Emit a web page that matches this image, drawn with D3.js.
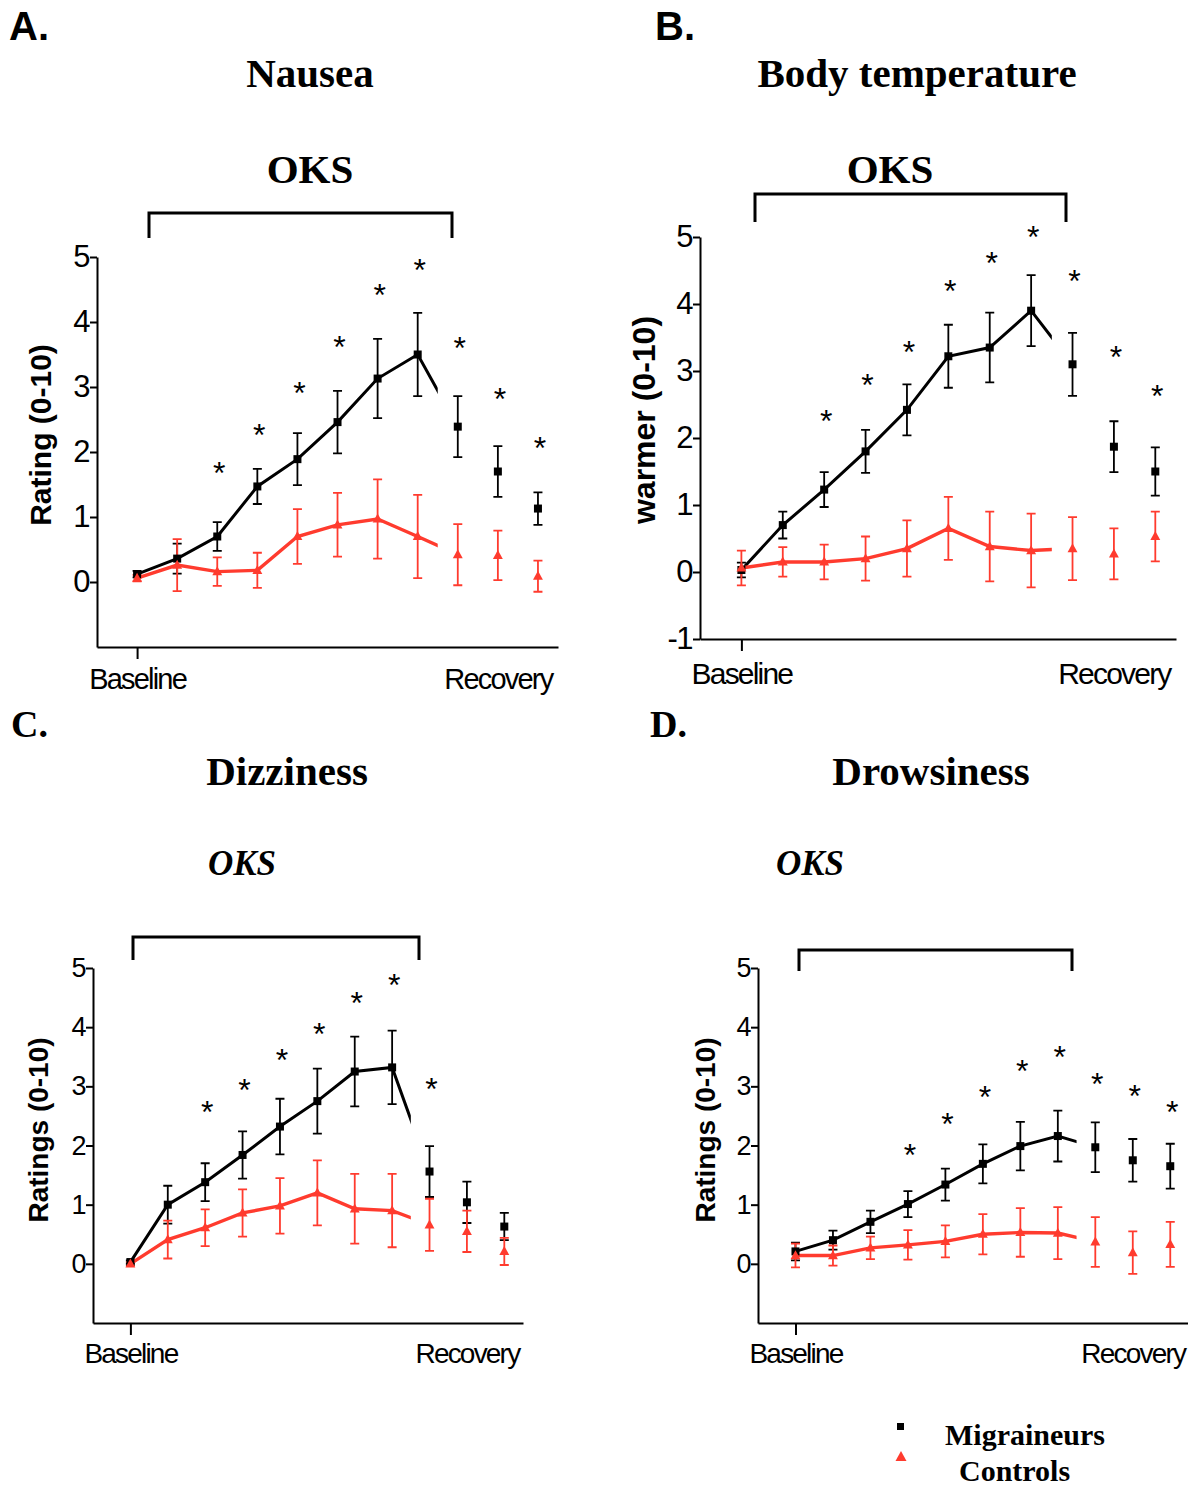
<!DOCTYPE html>
<html><head><meta charset="utf-8">
<script src="https://cdn.jsdelivr.net/npm/d3@7"></script>
<style>body{margin:0;background:#fff}</style>
</head><body>
<svg id="chart" width="1188" height="1486"></svg>
<script>
// ---------- data ----------
const timepoints = [0,1,2,3,4,5,6,7,8,9,10];
const xTickValues = [0, 9];
const xTickLabels = ["Baseline", "Recovery"];
const groupNames = ["Migraineurs", "Controls"];
const yTicksStd = [0,1,2,3,4,5];
const yTicksTemp = [-1,0,1,2,3,4,5];

const nauseaMig    = [0.12,0.36,0.70,1.47,1.89,2.46,3.13,3.50,2.39,1.70,1.13];
const nauseaMigErr = [0.05,0.23,0.22,0.27,0.40,0.48,0.61,0.64,0.47,0.39,0.25];
const nauseaCtl    = [0.06,0.26,0.16,0.18,0.70,0.88,0.97,0.70,0.42,0.41,0.09];
const nauseaCtlErr = [0.05,0.40,0.22,0.27,0.42,0.49,0.61,0.64,0.47,0.38,0.24];
const nauseaStars  = [null,null,1.78,2.37,3.02,3.72,4.52,4.91,3.71,2.92,2.17];

const tempMig    = [0.03,0.70,1.23,1.80,2.42,3.22,3.35,3.90,3.10,1.87,1.50];
const tempMigErr = [0.11,0.20,0.26,0.32,0.38,0.47,0.52,0.53,0.47,0.38,0.36];
const tempCtl    = [0.06,0.15,0.15,0.20,0.35,0.65,0.38,0.32,0.35,0.27,0.53];
const tempCtlErr = [0.26,0.22,0.26,0.33,0.42,0.47,0.52,0.55,0.47,0.38,0.37];
const tempStars  = [null,null,2.36,2.90,3.39,4.30,4.72,5.10,4.45,3.31,2.73];

const dizzMig    = [0.03,1.00,1.38,1.84,2.32,2.75,3.25,3.32,1.56,1.04,0.63];
const dizzMigErr = [0.03,0.32,0.32,0.40,0.47,0.55,0.59,0.62,0.43,0.35,0.23];
const dizzCtl    = [0.00,0.41,0.61,0.86,0.98,1.20,0.93,0.90,0.66,0.55,0.21];
const dizzCtlErr = [0.03,0.32,0.31,0.40,0.47,0.55,0.59,0.62,0.44,0.35,0.23];
const dizzStars  = [null,null,2.69,3.06,3.56,4.00,4.53,4.83,3.07,null,null];

const drowMig    = [0.21,0.40,0.71,1.01,1.34,1.69,1.99,2.16,1.97,1.75,1.65];
const drowMigErr = [0.15,0.16,0.19,0.22,0.27,0.33,0.41,0.43,0.42,0.36,0.38];
const drowCtl    = [0.14,0.14,0.27,0.32,0.38,0.50,0.53,0.52,0.37,0.19,0.33];
const drowCtlErr = [0.20,0.17,0.19,0.25,0.27,0.34,0.41,0.44,0.42,0.36,0.38];
const drowStars  = [null,null,null,1.96,2.48,2.94,3.38,3.61,3.16,2.96,2.69];

// ---------- styling / layout ----------
const SANS = "'Liberation Sans', Arial, Helvetica, sans-serif";
const SERIF = "'Liberation Serif', 'Times New Roman', Times, serif";
const BLACK = "#000", RED = "#ff3b2e";

const panels = [
  {letter:"A.", letterFont:SANS, letterSize:40, letterX:9, letterY:40,
   title:"Nausea", titleX:310, titleY:87, oksX:310, oksY:183, oksSize:41, oksItalic:false,
   bracket:{x1:149, x2:452, y:213, y2:238},
   left:97, right:558, top:257, bottom:647, tickFont:31, yTicks:yTicksStd,
   ylabel:"Rating (0-10)", ylabelX:51, ylabelY:435, ylabelSize:30,
   xlabelOff:42, xlabelSize:29,
   mig:nauseaMig, migErr:nauseaMigErr, ctl:nauseaCtl, ctlErr:nauseaCtlErr, stars:nauseaStars},
  {letter:"B.", letterFont:SANS, letterSize:40, letterX:655, letterY:40,
   title:"Body temperature", titleX:917, titleY:87, oksX:890, oksY:183, oksSize:41, oksItalic:false,
   bracket:{x1:755, x2:1066, y:194, y2:222},
   left:700, right:1176, top:237, bottom:639, tickFont:31, yTicks:yTicksTemp,
   ylabel:"warmer  (0-10)", ylabelX:655, ylabelY:420, ylabelSize:32,
   xlabelOff:45, xlabelSize:30,
   mig:tempMig, migErr:tempMigErr, ctl:tempCtl, ctlErr:tempCtlErr, stars:tempStars},
  {letter:"C.", letterFont:SERIF, letterSize:38, letterX:11, letterY:737,
   title:"Dizziness", titleX:287, titleY:785, oksX:242, oksY:875, oksSize:35, oksItalic:true,
   bracket:{x1:133, x2:419, y:937, y2:960},
   left:93, right:523, top:968, bottom:1323, tickFont:27, yTicks:yTicksStd,
   ylabel:"Ratings (0-10)", ylabelX:48, ylabelY:1130, ylabelSize:28,
   xlabelOff:40, xlabelSize:28,
   mig:dizzMig, migErr:dizzMigErr, ctl:dizzCtl, ctlErr:dizzCtlErr, stars:dizzStars},
  {letter:"D.", letterFont:SERIF, letterSize:38, letterX:650, letterY:737,
   title:"Drowsiness", titleX:931, titleY:785, oksX:810, oksY:875, oksSize:35, oksItalic:true,
   bracket:{x1:799, x2:1072, y:950, y2:971},
   left:758, right:1189, top:968, bottom:1323, tickFont:27, yTicks:yTicksStd,
   ylabel:"Ratings (0-10)", ylabelX:715, ylabelY:1130, ylabelSize:28,
   xlabelOff:40, xlabelSize:28,
   mig:drowMig, migErr:drowMigErr, ctl:drowCtl, ctlErr:drowCtlErr, stars:drowStars}
];

const svg = d3.select("#chart");
const defs = svg.append("defs");

const triPath = (s) => `M0,${-s*0.6}L${s*0.55},${s*0.4}L${-s*0.55},${s*0.4}Z`;

panels.forEach((p, pi) => {
  const g = svg.append("g");
  const x = d3.scaleLinear().domain([-1, 10.5]).range([p.left, p.right]);
  const y = d3.scaleLinear().domain([-1, 5]).range([p.bottom, p.top]);

  // panel letter, title, OKS
  g.append("text").attr("x", p.letterX).attr("y", p.letterY)
    .attr("font-family", p.letterFont).attr("font-weight", "bold")
    .attr("font-size", p.letterSize).text(p.letter);
  g.append("text").attr("x", p.titleX).attr("y", p.titleY).attr("text-anchor", "middle")
    .attr("font-family", SERIF).attr("font-weight", "bold").attr("font-size", 41).text(p.title);
  g.append("text").attr("x", p.oksX).attr("y", p.oksY).attr("text-anchor", "middle")
    .attr("font-family", SERIF).attr("font-weight", "bold")
    .attr("font-style", p.oksItalic ? "italic" : "normal")
    .attr("font-size", p.oksSize).text("OKS");
  // bracket
  const b = p.bracket;
  g.append("path")
    .attr("d", `M${b.x1},${b.y2}V${b.y}H${b.x2}V${b.y2}`)
    .attr("fill", "none").attr("stroke", BLACK).attr("stroke-width", 3);

  // y axis
  const yAxis = g.append("g").attr("transform", `translate(${p.left},0)`)
    .call(d3.axisLeft(y).tickValues(p.yTicks).tickFormat((d) => String(d))
      .tickSize(7).tickPadding(1).tickSizeOuter(0));
  yAxis.select(".domain").attr("stroke-width", 2);
  yAxis.selectAll(".tick line").attr("stroke-width", 2);
  yAxis.selectAll(".tick text").attr("font-family", SANS).attr("font-size", p.tickFont)
    .attr("fill", BLACK).attr("letter-spacing", -1.5);

  // x axis
  const xAxis = g.append("g").attr("transform", `translate(0,${p.bottom})`)
    .call(d3.axisBottom(x).tickValues(xTickValues).tickFormat((d, i) => xTickLabels[i])
      .tickSize(12).tickSizeOuter(0));
  xAxis.select(".domain").attr("stroke-width", 2);
  xAxis.selectAll(".tick line").attr("stroke-width", 2)
    .attr("display", (d) => d === 0 ? null : "none");
  xAxis.selectAll(".tick text").attr("font-family", SANS).attr("font-size", p.xlabelSize)
    .attr("fill", BLACK).attr("letter-spacing", -1.8)
    .attr("y", p.xlabelOff).attr("dy", 0);

  // y label
  g.append("text").attr("transform", `translate(${p.ylabelX},${p.ylabelY}) rotate(-90)`)
    .attr("text-anchor", "middle").attr("font-family", SANS).attr("font-weight", "bold")
    .attr("font-size", p.ylabelSize).text(p.ylabel);

  // clip for connecting lines (stop half-way to first recovery point)
  const clipId = "clip" + pi;
  defs.append("clipPath").attr("id", clipId).append("rect")
    .attr("x", p.left).attr("y", 0).attr("width", x(7.5) - p.left).attr("height", 1486);

  const series = [
    {vals:p.mig, err:p.migErr, color:BLACK, shape:"square"},
    {vals:p.ctl, err:p.ctlErr, color:RED, shape:"triangle"}
  ];

  // error bars
  series.forEach(s => {
    const eb = g.append("g").attr("stroke", s.color).attr("stroke-width", 1.8).attr("fill", "none");
    timepoints.forEach((t, i) => {
      const cx = x(t), y1 = y(s.vals[i] + s.err[i]), y2 = y(s.vals[i] - s.err[i]);
      eb.append("path").attr("d",
        `M${cx},${y1}V${y2}M${cx-4.5},${y1}H${cx+4.5}M${cx-4.5},${y2}H${cx+4.5}`);
    });
  });

  // connecting lines
  const line = d3.line().x((d) => x(d[0])).y((d) => y(d[1]));
  series.forEach(s => {
    const pts = timepoints.slice(0, 9).map((t, i) => [t, s.vals[i]]);
    g.append("path").attr("d", line(pts)).attr("fill", "none")
      .attr("stroke", s.color).attr("stroke-width", s.color === RED ? 3.4 : 3)
      .attr("stroke-linejoin", "miter").attr("clip-path", `url(#${clipId})`);
  });

  // markers
  series.forEach(s => {
    timepoints.forEach((t, i) => {
      const cx = x(t), cy = y(s.vals[i]);
      if (s.shape === "square") {
        g.append("rect").attr("x", cx - 4).attr("y", cy - 4).attr("width", 8).attr("height", 8)
          .attr("fill", s.color);
      } else {
        g.append("path").attr("transform", `translate(${cx},${cy})`).attr("d", triPath(9))
          .attr("fill", s.color);
      }
    });
  });

  // significance stars
  timepoints.forEach((t, i) => {
    if (p.stars[i] == null) return;
    g.append("text").attr("x", x(t) + 2).attr("y", y(p.stars[i]) + 18)
      .attr("text-anchor", "middle").attr("font-family", SANS).attr("font-size", 32)
      .text("*");
  });
});

// legend
const lg = svg.append("g");
lg.append("rect").attr("x", 897).attr("y", 1423).attr("width", 7).attr("height", 7).attr("fill", BLACK);
lg.append("path").attr("transform", "translate(901,1457)").attr("d", triPath(10)).attr("fill", RED);
lg.append("text").attr("x", 945).attr("y", 1445).attr("font-family", SERIF).attr("font-weight", "bold")
  .attr("font-size", 30).text(groupNames[0]);
lg.append("text").attr("x", 959).attr("y", 1481).attr("font-family", SERIF).attr("font-weight", "bold")
  .attr("font-size", 30).text(groupNames[1]);
</script>
</body></html>
